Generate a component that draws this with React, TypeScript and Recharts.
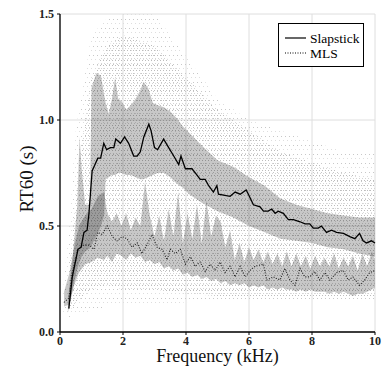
import React from 'react';
import { ComposedChart, Area, Line, XAxis, YAxis, CartesianGrid } from 'recharts';

// Slapstick mean RT60 (kHz, s)
const slapX = [0.28, 0.39, 0.57, 0.67, 0.76, 0.86, 0.92, 1.02, 1.2, 1.29, 1.39, 1.48, 1.6, 1.71, 1.77, 1.92, 2.05, 2.18, 2.34, 2.45, 2.55, 2.66, 2.82, 2.89, 3.0, 3.1, 3.29, 3.45, 3.61, 3.77, 3.84, 3.98, 4.19, 4.35, 4.45, 4.61, 4.72, 4.87, 4.98, 5.03, 5.4, 5.56, 5.72, 5.91, 5.98, 6.14, 6.35, 6.46, 6.61, 6.72, 6.83, 6.93, 7.09, 7.25, 7.41, 7.62, 7.78, 7.93, 8.04, 8.2, 8.3, 8.46, 8.62, 8.78, 9.0, 9.2, 9.36, 9.51, 9.62, 9.73, 9.89, 10];
const slapY = [0.11, 0.26, 0.39, 0.4, 0.47, 0.48, 0.56, 0.76, 0.82, 0.82, 0.89, 0.86, 0.87, 0.87, 0.91, 0.89, 0.92, 0.89, 0.83, 0.83, 0.85, 0.92, 0.98, 0.95, 0.87, 0.86, 0.91, 0.87, 0.83, 0.79, 0.83, 0.77, 0.77, 0.74, 0.72, 0.72, 0.69, 0.66, 0.69, 0.65, 0.64, 0.66, 0.65, 0.67, 0.65, 0.6, 0.59, 0.57, 0.57, 0.58, 0.56, 0.57, 0.56, 0.53, 0.53, 0.52, 0.51, 0.51, 0.49, 0.49, 0.5, 0.47, 0.48, 0.47, 0.465, 0.45, 0.44, 0.465, 0.43, 0.42, 0.43, 0.42];

// Slapstick spread band
const slapBandX = [0.25, 0.4, 0.55, 0.62, 0.7, 0.8, 0.9, 0.95, 1.0, 1.15, 1.3, 1.4, 1.45, 1.55, 1.65, 1.75, 1.85, 1.95, 2.1, 2.25, 2.4, 2.55, 2.65, 2.8, 2.95, 3.1, 3.3, 3.5, 3.7, 3.9, 4.1, 4.3, 4.5, 5.0, 5.5, 6.0, 6.5, 7.0, 7.5, 8.0, 8.5, 9.0, 9.5, 10];
const slapBandLo = [0.09, 0.2, 0.3, 0.33, 0.36, 0.38, 0.39, 0.4, 0.41, 0.45, 0.5, 0.55, 0.72, 0.73, 0.74, 0.74, 0.75, 0.75, 0.74, 0.74, 0.73, 0.72, 0.72, 0.73, 0.74, 0.75, 0.75, 0.73, 0.7, 0.68, 0.65, 0.63, 0.61, 0.57, 0.54, 0.5, 0.47, 0.44, 0.43, 0.42, 0.4, 0.39, 0.37, 0.355];
const slapBandHi = [0.15, 0.35, 0.6, 0.92, 0.75, 0.6, 0.6, 0.62, 1.15, 1.22, 1.21, 1.12, 1.08, 1.03, 1.1, 1.2, 1.1, 1.09, 1.05, 1.07, 1.1, 1.14, 1.18, 1.15, 1.08, 1.07, 1.06, 1.04, 1.01, 0.97, 0.94, 0.91, 0.88, 0.81, 0.78, 0.73, 0.69, 0.63, 0.6, 0.58, 0.56, 0.55, 0.54, 0.54];

// MLS mean RT60
const mlsX = [0.13, 0.28, 0.39, 0.57, 0.76, 0.92, 1.08, 1.2, 1.34, 1.5, 1.66, 1.81, 1.97, 2.13, 2.29, 2.45, 2.6, 2.76, 2.92, 3.08, 3.24, 3.4, 3.5, 3.66, 3.82, 3.98, 4.14, 4.29, 4.45, 4.61, 4.77, 4.93, 5.08, 5.24, 5.4, 5.56, 5.72, 5.88, 6.03, 6.19, 6.46, 6.56, 6.77, 6.98, 7.14, 7.3, 7.46, 7.62, 7.77, 7.93, 8.09, 8.25, 8.41, 8.57, 8.78, 8.99, 9.15, 9.3, 9.51, 9.67, 9.83, 10];
const mlsY = [0.14, 0.16, 0.28, 0.39, 0.41, 0.41, 0.39, 0.47, 0.46, 0.5, 0.45, 0.43, 0.45, 0.44, 0.4, 0.42, 0.37, 0.41, 0.46, 0.4, 0.39, 0.34, 0.39, 0.37, 0.39, 0.32, 0.355, 0.31, 0.33, 0.285, 0.32, 0.29, 0.33, 0.28, 0.31, 0.26, 0.31, 0.26, 0.29, 0.31, 0.32, 0.245, 0.26, 0.245, 0.3, 0.245, 0.22, 0.3, 0.26, 0.26, 0.285, 0.245, 0.28, 0.245, 0.28, 0.29, 0.245, 0.26, 0.22, 0.245, 0.28, 0.29];

// MLS spread band
const mlsBandX = [0.13, 0.3, 0.45, 0.6, 0.8, 1.0, 1.2, 1.4, 1.5, 1.65, 1.8, 1.95, 2.1, 2.25, 2.4, 2.55, 2.7, 2.85, 3.0, 3.15, 3.3, 3.45, 3.6, 3.75, 3.9, 4.05, 4.2, 4.35, 4.5, 4.65, 4.8, 4.95, 5.1, 5.25, 5.4, 5.55, 5.7, 5.85, 6.0, 6.15, 6.3, 6.45, 6.6, 6.75, 6.9, 7.05, 7.2, 7.35, 7.5, 7.65, 7.8, 7.95, 8.1, 8.25, 8.4, 8.55, 8.7, 8.85, 9.0, 9.15, 9.3, 9.45, 9.6, 9.75, 9.9, 10];
const mlsBandLo = [0.12, 0.13, 0.22, 0.28, 0.32, 0.33, 0.35, 0.34, 0.36, 0.33, 0.37, 0.36, 0.34, 0.37, 0.35, 0.36, 0.33, 0.34, 0.32, 0.33, 0.3, 0.31, 0.29, 0.3, 0.27, 0.28, 0.26, 0.27, 0.25, 0.26, 0.24, 0.25, 0.23, 0.24, 0.22, 0.23, 0.22, 0.23, 0.21, 0.22, 0.21, 0.22, 0.2, 0.21, 0.2, 0.21, 0.2, 0.2, 0.19, 0.2, 0.19, 0.2, 0.19, 0.19, 0.19, 0.18, 0.19, 0.18, 0.19, 0.18, 0.17, 0.18, 0.18, 0.19, 0.2, 0.21];
const mlsBandHi = [0.19, 0.28, 0.4, 0.5, 0.55, 0.58, 0.64, 0.66, 0.56, 0.52, 0.56, 0.5, 0.56, 0.48, 0.54, 0.5, 0.71, 0.55, 0.45, 0.55, 0.43, 0.58, 0.45, 0.66, 0.42, 0.56, 0.44, 0.6, 0.42, 0.62, 0.45, 0.55, 0.52, 0.4, 0.48, 0.34, 0.42, 0.33, 0.4, 0.34, 0.39, 0.33, 0.38, 0.32, 0.37, 0.31, 0.38, 0.31, 0.37, 0.31, 0.36, 0.3, 0.36, 0.31, 0.35, 0.31, 0.37, 0.3, 0.35, 0.31, 0.36, 0.29, 0.37, 0.31, 0.38, 0.34];

// envelope of the individual measurements (stippled)
const dotsX = [0.1, 0.3, 0.5, 1.0, 1.5, 2.0, 3.0, 3.5, 4.0, 4.5, 5.0, 6.0, 7.0, 8.0, 9.0, 10];
const dotsLo = [0.08, 0.07, 0.08, 0.1, 0.12, 0.12, 0.12, 0.13, 0.14, 0.15, 0.15, 0.15, 0.15, 0.15, 0.15, 0.15];
const dotsHi = [0.2, 0.5, 0.95, 1.4, 1.48, 1.5, 1.5, 1.4, 1.3, 1.2, 1.1, 1.0, 0.95, 0.9, 0.85, 0.85];
const denseX = [0.3, 0.6, 1.0, 1.5, 2.0, 3.0, 4.0, 5.0, 6.0, 7.0, 8.0, 9.0, 10];
const denseLo = [0.1, 0.15, 0.2, 0.22, 0.2, 0.2, 0.18, 0.17, 0.16, 0.16, 0.16, 0.16, 0.16];
const denseHi = [0.3, 0.8, 1.2, 1.35, 1.4, 1.35, 1.2, 1.05, 0.95, 0.85, 0.8, 0.75, 0.72];

const xTicks = [0, 2, 4, 6, 8, 10];
const yTicks = [0, 0.5, 1, 1.5];

const points = (xs: number[], ys: number[]) => xs.map((x, i) => ({ x, y: ys[i] }));
const band = (xs: number[], lo: number[], hi: number[]) => xs.map((x, i) => ({ x, range: [lo[i], hi[i]] }));

const serif = '"Liberation Serif", "Times New Roman", serif';

const LegendBox = () => (
  <div style={{ position: 'absolute', left: 278, top: 23, border: '1px solid #000', background: '#fff', width: 84, height: 42 }}>
    <svg width={84} height={42} style={{ display: 'block' }}>
      <line x1={6} x2={27} y1={14} y2={14} stroke="#000" strokeWidth={1.2} />
      <text x={31} y={18.5} fontFamily={serif} fontSize={13.5}>Slapstick</text>
      <line x1={6} x2={27} y1={29} y2={29} stroke="#000" strokeWidth={1} strokeDasharray="1 1.5" />
      <text x={31} y={33.5} fontFamily={serif} fontSize={13.5}>MLS</text>
    </svg>
  </div>
);

export default function App() {
  return (
    <div style={{ position: 'absolute', left: 0, top: 0, width: 383, height: 368, background: '#fff' }}>
      <ComposedChart width={383} height={368} margin={{ top: 14, right: 8, bottom: 0, left: 0 }}>
        <defs>
          <pattern id="dotsSparse" width={4} height={9} patternUnits="userSpaceOnUse">
            <rect x={1} y={1} width={1} height={1} fill="#c8c8c8" />
            <rect x={3} y={5} width={1} height={1} fill="#dedede" />
          </pattern>
          <pattern id="dotsDense" width={3} height={5} patternUnits="userSpaceOnUse">
            <rect x={1} y={0} width={1} height={1} fill="#bcbcbc" />
            <rect x={2} y={3} width={1} height={1} fill="#d4d4d4" />
          </pattern>
        </defs>
        <CartesianGrid stroke="#dedede" strokeWidth={1} />
        <XAxis
          type="number"
          dataKey="x"
          domain={[0, 10]}
          ticks={xTicks}
          height={36}
          axisLine={{ stroke: '#000', strokeWidth: 1.3 }}
          tickLine={{ stroke: '#000' }}
          tickSize={3}
          tickMargin={1}
          tick={{ fontFamily: serif, fontSize: 12, fontWeight: 'bold', fill: '#222' }}
          label={{ value: 'Frequency (kHz)', position: 'insideBottom', offset: 6, style: { fontFamily: serif, fontSize: 18, fill: '#111' } }}
        />
        <YAxis
          type="number"
          domain={[0, 1.5]}
          ticks={yTicks}
          width={60}
          axisLine={{ stroke: '#000', strokeWidth: 1.3 }}
          tickLine={{ stroke: '#000' }}
          tickSize={3}
          tickMargin={3}
          tickFormatter={(v) => v.toFixed(1)}
          tick={{ fontFamily: serif, fontSize: 12, fontWeight: 'bold', fill: '#222' }}
          label={{ value: 'RT60 (s)', angle: -90, position: 'insideLeft', offset: 26, dy: 6, style: { textAnchor: 'middle', fontFamily: serif, fontSize: 19, fill: '#111' } }}
        />
        <Area data={band(dotsX, dotsLo, dotsHi)} dataKey="range" type="linear" stroke="none" fill="url(#dotsSparse)" fillOpacity={1} legendType="none" isAnimationActive={false} dot={false} activeDot={false} />
        <Area data={band(denseX, denseLo, denseHi)} dataKey="range" type="linear" stroke="none" fill="url(#dotsDense)" fillOpacity={1} legendType="none" isAnimationActive={false} dot={false} activeDot={false} />
        <Area data={band(slapBandX, slapBandLo, slapBandHi)} dataKey="range" type="linear" stroke="none" fill="#000" fillOpacity={0.22} legendType="none" isAnimationActive={false} dot={false} activeDot={false} />
        <Area data={band(mlsBandX, mlsBandLo, mlsBandHi)} dataKey="range" type="linear" stroke="none" fill="#000" fillOpacity={0.22} legendType="none" isAnimationActive={false} dot={false} activeDot={false} />
        <Line data={points(mlsX, mlsY)} dataKey="y" name="MLS" type="linear" stroke="#222" strokeWidth={1.1} strokeDasharray="1 1.6" dot={false} activeDot={false} isAnimationActive={false} />
        <Line data={points(slapX, slapY)} dataKey="y" name="Slapstick" type="linear" stroke="#000" strokeWidth={1.3} dot={false} activeDot={false} isAnimationActive={false} />
      </ComposedChart>
      <LegendBox />
    </div>
  );
}
